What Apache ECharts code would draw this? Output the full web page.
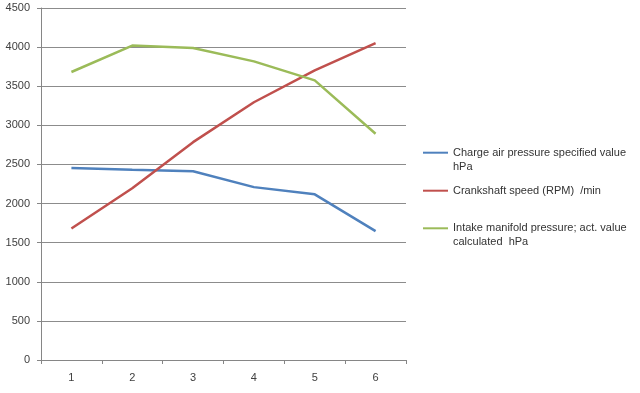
<!DOCTYPE html>
<html>
<head>
<meta charset="utf-8">
<script src="https://cdn.jsdelivr.net/npm/echarts@6/dist/echarts.min.js"></script>
<style>
html,body{margin:0;padding:0;background:#fff;}
#c{width:640px;height:393px;}
</style>
</head>
<body>
<div id="c"></div>
<script>
const categories = ['1', '2', '3', '4', '5', '6'];
const chargeAir = [2455, 2433, 2412, 2210, 2118, 1648];
const crankshaft = [1682, 2195, 2785, 3295, 3702, 4052];
const intake = [3682, 4020, 3988, 3818, 3575, 2893];
const seriesNames = [
  'Charge air pressure specified value\nhPa',
  'Crankshaft speed (RPM)  /min',
  'Intake manifold pressure; act. value\ncalculated  hPa'
];
const colors = ['#4F81BD', '#C0504D', '#9BBB59'];

const font = 'Liberation Sans';
const chart = echarts.init(document.getElementById('c'), null, {renderer: 'canvas'});

function legendFor(i, top) {
  return {
    data: [seriesNames[i]],
    left: 423,
    top: top,
    orient: 'vertical',
    padding: 0,
    selectedMode: false,
    icon: 'rect',
    itemWidth: 25,
    itemHeight: 2,
    formatter: n => (n.indexOf('\n') >= 0 ? '\n' + n : n),
    textStyle: {fontFamily: font, fontSize: 11, color: '#333', lineHeight: 14}
  };
}

chart.setOption({
  animation: false,
  color: colors,
  grid: {left: 41, right: 234, top: 8, bottom: 33},
  legend: [legendFor(0, 131.7), legendFor(1, 183.7), legendFor(2, 207.3)],
  xAxis: {
    type: 'category',
    data: categories,
    boundaryGap: true,
    axisLine: {lineStyle: {color: '#868686', width: 1}},
    axisTick: {show: true, length: 4, lineStyle: {color: '#868686'}},
    axisLabel: {fontFamily: font, fontSize: 11, color: '#404040', margin: 12}
  },
  yAxis: {
    type: 'value',
    min: 0,
    max: 4500,
    interval: 500,
    axisLine: {show: true, lineStyle: {color: '#868686', width: 1}},
    axisTick: {show: true, length: 4, lineStyle: {color: '#868686'}},
    axisLabel: {fontFamily: font, fontSize: 11, color: '#404040', margin: 11, formatter: v => String(v)},
    splitLine: {show: true, lineStyle: {color: '#8c8c8c', width: 1}}
  },
  series: [
    {name: seriesNames[0], type: 'line', data: chargeAir, symbol: 'none', lineStyle: {width: 2.5}},
    {name: seriesNames[1], type: 'line', data: crankshaft, symbol: 'none', lineStyle: {width: 2.5}},
    {name: seriesNames[2], type: 'line', data: intake, symbol: 'none', lineStyle: {width: 2.5}}
  ]
});
</script>
</body>
</html>
